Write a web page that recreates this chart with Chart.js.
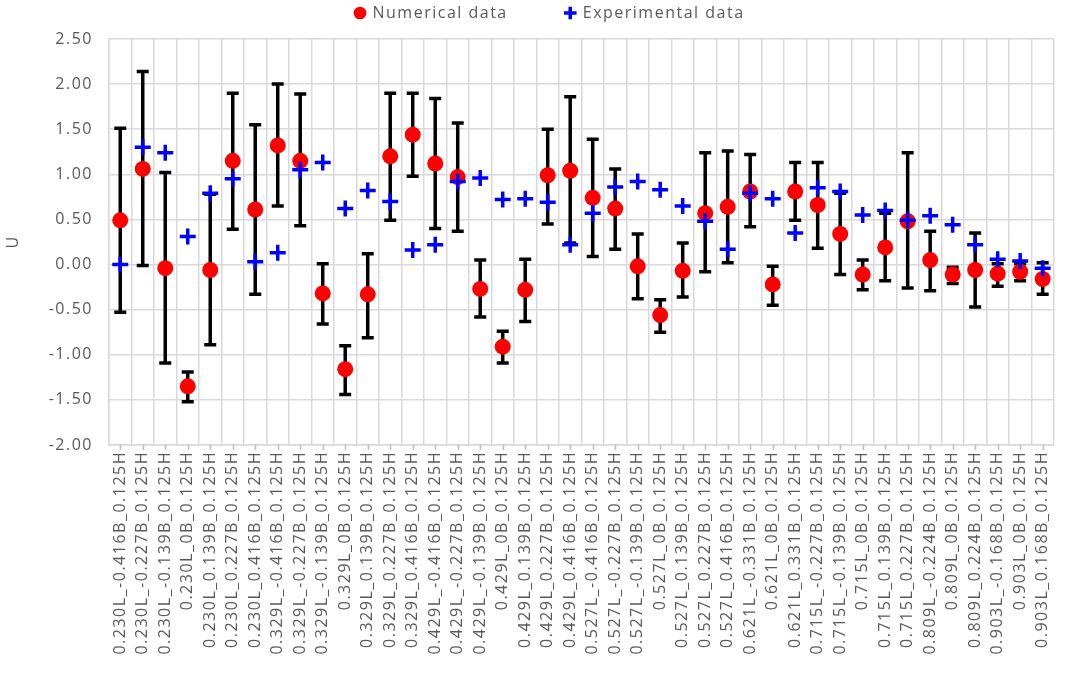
<!DOCTYPE html>
<html>
<head>
<meta charset="utf-8">
<script src="https://cdn.jsdelivr.net/npm/chart.js@4.4.0/dist/chart.umd.min.js"></script>
<style>
    html, body { margin: 0; padding: 0; background: #fff; }
    #chart { display: block; }
</style>
</head>
<body>
<canvas id="chart" width="1068" height="673"></canvas>
<script>
// categories along the x axis
const categories = [
    '0.230L_-0.416B_0.125H', '0.230L_-0.227B_0.125H', '0.230L_-0.139B_0.125H', '0.230L_0B_0.125H',
    '0.230L_0.139B_0.125H', '0.230L_0.227B_0.125H', '0.230L_0.416B_0.125H',
    '0.329L_-0.416B_0.125H', '0.329L_-0.227B_0.125H', '0.329L_-0.139B_0.125H', '0.329L_0B_0.125H',
    '0.329L_0.139B_0.125H', '0.329L_0.227B_0.125H', '0.329L_0.416B_0.125H',
    '0.429L_-0.416B_0.125H', '0.429L_-0.227B_0.125H', '0.429L_-0.139B_0.125H', '0.429L_0B_0.125H',
    '0.429L_0.139B_0.125H', '0.429L_0.227B_0.125H', '0.429L_0.416B_0.125H',
    '0.527L_-0.416B_0.125H', '0.527L_-0.227B_0.125H', '0.527L_-0.139B_0.125H', '0.527L_0B_0.125H',
    '0.527L_0.139B_0.125H', '0.527L_0.227B_0.125H', '0.527L_0.416B_0.125H',
    '0.621L_-0.331B_0.125H', '0.621L_0B_0.125H', '0.621L_0.331B_0.125H',
    '0.715L_-0.227B_0.125H', '0.715L_-0.139B_0.125H', '0.715L_0B_0.125H',
    '0.715L_0.139B_0.125H', '0.715L_0.227B_0.125H',
    '0.809L_-0.224B_0.125H', '0.809L_0B_0.125H', '0.809L_0.224B_0.125H',
    '0.903L_-0.168B_0.125H', '0.903L_0B_0.125H', '0.903L_0.168B_0.125H'
];

// series values (U)
const numerical = [
    0.49, 1.06, -0.04, -1.35, -0.06, 1.15, 0.61,
    1.32, 1.15, -0.32, -1.16, -0.33, 1.20, 1.44,
    1.12, 0.97, -0.27, -0.91, -0.28, 0.99, 1.04,
    0.74, 0.62, -0.02, -0.56, -0.07, 0.57, 0.64,
    0.81, -0.22, 0.81,
    0.66, 0.34, -0.11, 0.19, 0.48,
    0.05, -0.11, -0.06,
    -0.10, -0.08, -0.16
];
const experimental = [
    0.00, 1.30, 1.24, 0.31, 0.79, 0.95, 0.03,
    0.13, 1.05, 1.13, 0.62, 0.82, 0.70, 0.16,
    0.22, 0.92, 0.96, 0.72, 0.73, 0.69, 0.22,
    0.57, 0.86, 0.92, 0.83, 0.65, 0.48, 0.17,
    0.79, 0.73, 0.35,
    0.85, 0.81, 0.55, 0.60, 0.49,
    0.54, 0.44, 0.22,
    0.06, 0.04, -0.04
];

// error bar limits of the numerical data
const errHigh = [
    1.51, 2.14, 1.02, -1.19, 0.78, 1.90, 1.55,
    2.00, 1.89, 0.01, -0.90, 0.12, 1.90, 1.90,
    1.84, 1.57, 0.05, -0.74, 0.06, 1.50, 1.86,
    1.39, 1.06, 0.34, -0.39, 0.24, 1.24, 1.26,
    1.22, -0.02, 1.13,
    1.13, 0.79, 0.05, 0.57, 1.24,
    0.37, -0.03, 0.35,
    0.01, 0.01, 0.02
];
const errLow = [
    -0.53, -0.01, -1.09, -1.52, -0.89, 0.39, -0.33,
    0.65, 0.43, -0.66, -1.44, -0.81, 0.49, 0.98,
    0.40, 0.37, -0.58, -1.09, -0.63, 0.45, 0.24,
    0.09, 0.17, -0.38, -0.75, -0.36, -0.08, 0.02,
    0.42, -0.45, 0.49,
    0.18, -0.11, -0.28, -0.18, -0.26,
    -0.29, -0.21, -0.47,
    -0.24, -0.18, -0.33
];

// y axis ticks
const yMin = -2.0;
const yMax = 2.5;
const yStep = 0.5;

const textGray = '#595959';
const gridGray = '#d9d9d9';
const fontFamily = '"Open Sans", "Liberation Sans", sans-serif';

// wider letter spacing, closer to the original text
const textSpacing = {
    id: 'textSpacing',
    beforeLayout(chart) { chart.ctx.letterSpacing = '1.5px'; },
    beforeDraw(chart) { chart.ctx.letterSpacing = '1.5px'; }
};

// keep the legend in a thin band on top, items spread apart
const legendPlace = {
    id: 'legendPlace',
    afterInit(chart) {
        const legend = chart.legend;
        const fit = legend.fit;
        legend.fit = function () {
            fit.call(this);
            this.height = 39;
        };
    },
    afterLayout(chart) {
        const legend = chart.legend;
        legend.top = -53;
        legend.bottom = 39;
        legend.left += 17;
        legend.right += 17;
    }
};

// black error bars under the markers, tick marks at category centres
const errorBars = {
    id: 'errorBars',
    beforeDatasetsDraw(chart) {
        const { ctx, scales: { x, y } } = chart;
        ctx.save();
        ctx.strokeStyle = '#000';
        ctx.lineWidth = 3.5;
        ctx.lineCap = 'butt';
        errHigh.forEach((hi, i) => {
            const px = x.getPixelForValue(i);
            const top = y.getPixelForValue(hi);
            const bot = y.getPixelForValue(errLow[i]);
            ctx.beginPath();
            ctx.moveTo(px, top);
            ctx.lineTo(px, bot);
            ctx.moveTo(px - 6, top);
            ctx.lineTo(px + 6, top);
            ctx.moveTo(px - 6, bot);
            ctx.lineTo(px + 6, bot);
            ctx.stroke();
        });
        ctx.restore();
    },
    afterDraw(chart) {
        const { ctx, scales: { x }, chartArea } = chart;
        ctx.save();
        ctx.strokeStyle = '#bfbfbf';
        ctx.lineWidth = 1.5;
        categories.forEach((c, i) => {
            const px = Math.round(x.getPixelForValue(i)) + 0.5;
            ctx.beginPath();
            ctx.moveTo(px, chartArea.bottom);
            ctx.lineTo(px, chartArea.bottom + 5);
            ctx.stroke();
        });
        ctx.restore();
    }
};

const ctx = document.getElementById('chart').getContext('2d');

new Chart(ctx, {
    type: 'line',
    data: {
        labels: categories,
        datasets: [
            {
                label: 'Numerical data',
                data: numerical,
                showLine: false,
                pointStyle: 'circle',
                pointRadius: 8,
                pointBackgroundColor: '#ff0000',
                pointBorderWidth: 0,
                backgroundColor: '#ff0000',
                borderColor: '#ff0000',
                borderWidth: 0,
                order: 2
            },
            {
                label: 'Experimental data',
                data: experimental,
                showLine: false,
                pointStyle: 'cross',
                pointRadius: 8,
                pointBorderColor: '#0000ff',
                pointBorderWidth: 3.5,
                backgroundColor: '#0000ff',
                borderColor: '#0000ff',
                borderWidth: 3.5,
                order: 1
            }
        ]
    },
    options: {
        responsive: false,
        animation: false,
        events: [],
        layout: { padding: { left: 0, right: 2, top: 0, bottom: 0 } },
        plugins: {
            legend: {
                display: true,
                position: 'top',
                labels: {
                    usePointStyle: true,
                    boxWidth: 9,
                    boxHeight: 9,
                    padding: 58,
                    color: textGray,
                    font: { family: fontFamily, size: 16 },
                    sort: (a, b) => a.datasetIndex - b.datasetIndex
                }
            },
            tooltip: { enabled: false }
        },
        scales: {
            x: {
                type: 'category',
                offset: true,
                grid: {
                    offset: true,
                    color: gridGray,
                    lineWidth: 1.5,
                    drawTicks: false
                },
                border: { color: gridGray, width: 1.5 },
                ticks: {
                    autoSkip: false,
                    minRotation: 90,
                    maxRotation: 90,
                    padding: 6,
                    color: textGray,
                    font: { family: fontFamily, size: 16 }
                },
                afterFit(scale) { scale.height = 228; }
            },
            y: {
                min: yMin,
                max: yMax,
                grid: {
                    color: gridGray,
                    lineWidth: 1.5,
                    drawTicks: false
                },
                border: { color: gridGray, width: 1.5 },
                ticks: {
                    stepSize: yStep,
                    padding: 16,
                    color: textGray,
                    font: { family: fontFamily, size: 16 },
                    callback: (v) => Number(v).toFixed(2)
                },
                title: {
                    display: true,
                    text: 'U',
                    color: textGray,
                    font: { family: fontFamily, size: 16 },
                    padding: { top: 4, bottom: 4 }
                },
                afterFit(scale) { scale.width = 109; }
            }
        }
    },
    plugins: [textSpacing, legendPlace, errorBars]
});
</script>
</body>
</html>
